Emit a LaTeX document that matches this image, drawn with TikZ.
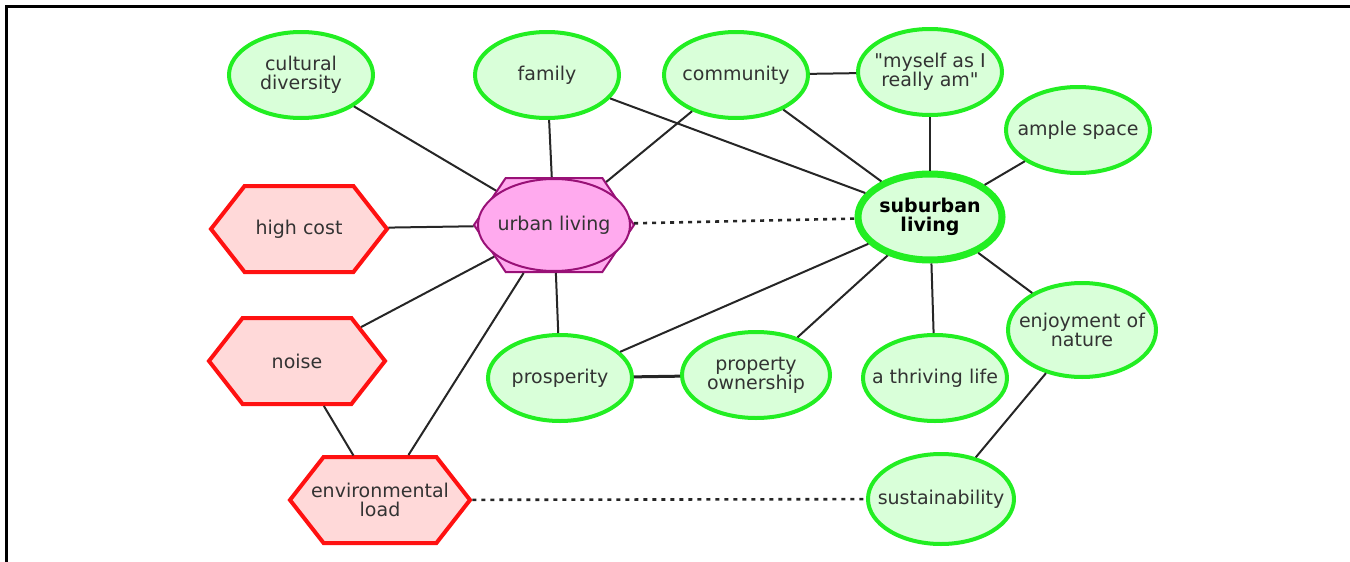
\documentclass[tikz,border=0pt]{standalone}
\usepackage{fontspec}
\setmainfont{DejaVu Sans}[Ligatures=TeXOff]
\usetikzlibrary{shapes.geometric}
\usetikzlibrary{shapes.symbols}
\definecolor{goodline}{HTML}{22EE22}
\definecolor{goodfill}{HTML}{D9FFD9}
\definecolor{badline}{HTML}{FF1111}
\definecolor{badfill}{HTML}{FFD9D9}
\definecolor{hubline}{HTML}{991177}
\definecolor{hubfill}{HTML}{FFAAEE}
\definecolor{ink}{HTML}{333333}
\tikzset{
	every node/.style={
		align=center,
		text=ink,
		font=\fontsize{9.5}{9.5}\selectfont,
		inner sep=0pt,
	},
	good/.style={
		draw=goodline,
		fill=goodfill,
		ellipse,
		line width=2pt,
		inner xsep=-14pt,
		inner ysep=-4pt,
		minimum width=72pt,
		minimum height=43pt,
	},
	key/.style={
		good,
		line width=3.5pt,
		font=\fontsize{9.5}{9.5}\selectfont\bfseries,
		text=black,
	},
	bad/.style={
		draw=badline,
		fill=badfill,
		signal,
		signal to=west and east,
		signal pointer angle=104,
		line width=2pt,
		inner xsep=-12pt,
		minimum width=88pt,
		minimum height=43pt,
	},
	hub/.style={
		draw=hubline,
		fill=hubfill,
		signal,
		signal to=west and east,
		signal pointer angle=112,
		line width=1pt,
		minimum width=80pt,
		minimum height=47pt,
	},
	hubring/.style={
		draw=hubline,
		fill=hubfill,
		ellipse,
		line width=1pt,
		inner xsep=-14pt,
		minimum width=76pt,
		minimum height=46pt,
	},
	link/.style={
		draw=black!85,
		line width=1pt,
	},
	maybe/.style={
		link,
		line width=1.3pt,
		dash pattern=on 2pt off 2.5pt,
	},
}
\begin{document}
\begin{tikzpicture}[x=0.5pt,y=-0.5pt]
	\useasboundingbox (0,0) rectangle (1350,562);
	\draw[line width=1.5pt] (6,562) -- (6,6) -- (1350,6);

	\node[hub]     (urban)   at (554,225) {};
	\node[hubring] (urbantx) at (554,225) {urban living};
	\node[key]     (sub)     at (930,217) {suburban\\living};

	\node[good] (cult)    at (301,75)   {cultural\\diversity};
	\node[good] (family)  at (547,75)   {family};
	\node[good] (comm)    at (736,75)   {community};
	\node[good] (myself)  at (930,72)   {"myself as I\\really am"};
	\node[good] (ample)   at (1078,130) {ample space};

	\node[bad]  (cost)    at (299,229)  {high cost};
	\node[bad]  (noise)   at (297,361)  {noise};
	\node[bad, minimum width=90pt] (envload) at (380,500) {environmental\\load};

	\node[good] (prosp)   at (560,378)  {prosperity};
	\node[good, minimum width=74pt] (propown) at (756,375) {property\\ownership};
	\node[good] (thrive)  at (935,378)  {a thriving life};
	\node[good, minimum width=74pt, minimum height=47pt] (enjoy) at (1082,330) {enjoyment of\\nature};
	\node[good, minimum width=73pt, minimum height=45pt] (sust) at (941,499) {sustainability};

	\draw[link] (cult) -- (urban);
	\draw[link] (family) -- (urban);
	\draw[link] (family) -- (sub);
	\draw[link] (comm) -- (urban);
	\draw[link] (comm) -- (sub);
	\draw[link] (comm) -- (myself);
	\draw[link] (myself) -- (sub);
	\draw[link] (ample) -- (sub);
	\draw[link] (cost) -- (urban);
	\draw[link] (noise) -- (urban);
	\draw[link] (noise) -- (envload);
	\draw[link] (envload) -- (urban);
	\draw[link] (urban) -- (prosp);
	\draw[link] (prosp) -- (sub);
	\draw[link, line width=1.5pt] (prosp) -- (propown);
	\draw[link] (propown) -- (sub);
	\draw[link] (thrive) -- (sub);
	\draw[link] (enjoy) -- (sub);
	\draw[link] (enjoy) -- (sust);
	\draw[maybe] (urban) -- (sub);
	\draw[maybe] (envload) -- (sust);
\end{tikzpicture}
\end{document}
